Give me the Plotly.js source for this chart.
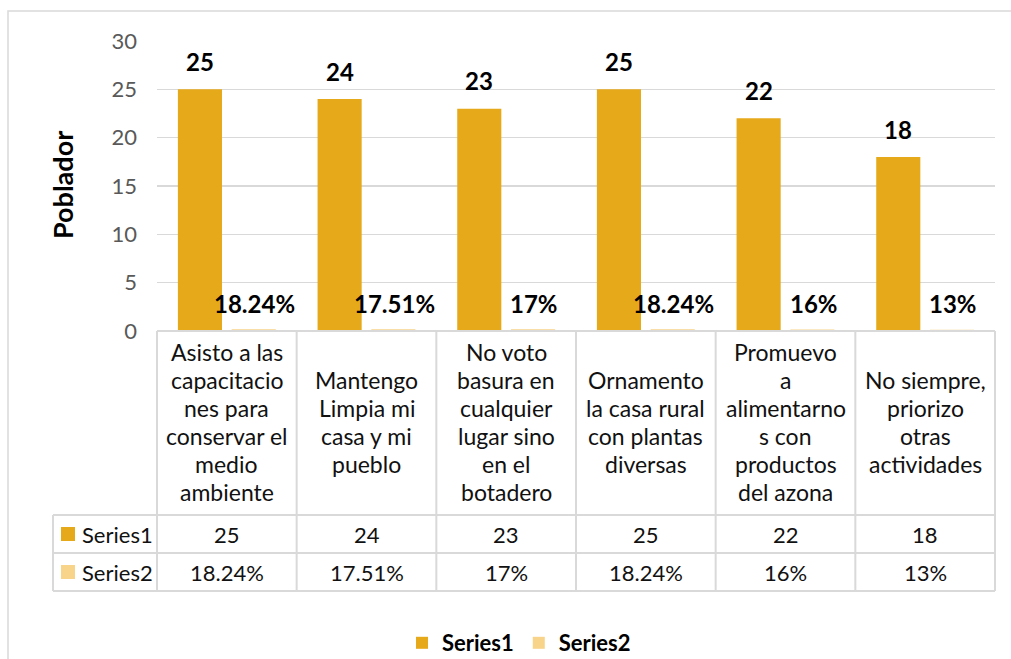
<!DOCTYPE html>
<html>
<head>
<meta charset="utf-8">
<script src="https://cdn.plot.ly/plotly-3.0.1.min.js"></script>
<style>
html,body{margin:0;padding:0;background:#fff;}
#chart{width:1011px;height:659px;}
</style>
</head>
<body>
<div id="chart"></div>
<script>
// ---- data ----
const categories = [
  "Asisto a las capacitaciones para conservar el medio ambiente",
  "Mantengo Limpia mi casa y mi pueblo",
  "No voto basura en cualquier lugar sino en el botadero",
  "Ornamento la casa rural con plantas diversas",
  "Promuevo a alimentarnos con productos del azona",
  "No siempre, priorizo otras actividades"
];
const categoryLines = [
  ["Asisto a las", "capacitacio", "nes para", "conservar el", "medio", "ambiente"],
  ["Mantengo", "Limpia mi", "casa y mi", "pueblo"],
  ["No voto", "basura en", "cualquier", "lugar sino", "en el", "botadero"],
  ["Ornamento", "la casa rural", "con plantas", "diversas"],
  ["Promuevo", "a", "alimentarno", "s con", "productos", "del azona"],
  ["No siempre,", "priorizo", "otras", "actividades"]
];
const series1Name = "Series1";
const series2Name = "Series2";
const series1 = [25, 24, 23, 25, 22, 18];
const series2 = [0.1824, 0.1751, 0.17, 0.1824, 0.16, 0.13];
const series2Labels = ["18.24%", "17.51%", "17%", "18.24%", "16%", "13%"];
const yTitle = "Poblador";

// ---- styling ----
const FONT = "Lato, 'Open Sans', sans-serif";
const C1 = "#E6A91A";
const C2 = "#F8D38A";
const GRID = "#D9D9D9";
const W = 1011, H = 659;
const PL = 157, PR = 995, PT = 41, PB = 331;
const px2x = p => (p - PL) / (PR - PL);
const px2y = p => (PB - p) / (PB - PT);

const traces = [
  {type: "bar", name: series1Name, x: categories, y: series1,
   marker: {color: C1}, hoverinfo: "y"},
  {type: "bar", name: series2Name, x: categories, y: series2,
   marker: {color: C2}, hoverinfo: "y"}
];

const shapes = [];
const annotations = [];
const line = {color: GRID, width: 2};

// outer chart border
shapes.push({type: "rect", xref: "paper", yref: "paper",
  x0: px2x(8), x1: px2x(1030), y0: px2y(680), y1: px2y(11),
  line: {color: GRID, width: 1.5}, fillcolor: "rgba(0,0,0,0)", layer: "below"});

// data table
const n = categories.length;
[PB, 515, 553, 591].forEach((py, k) => {
  shapes.push({type: "line", xref: "paper", yref: "paper",
    x0: k === 0 ? 0 : px2x(53), x1: 1, y0: px2y(py), y1: px2y(py), line});
});
for (let i = 0; i <= n; i++) {
  shapes.push({type: "line", xref: "paper", yref: "paper",
    x0: i / n, x1: i / n, y0: px2y(PB), y1: px2y(591), line});
}
shapes.push({type: "line", xref: "paper", yref: "paper",
  x0: px2x(53), x1: px2x(53), y0: px2y(515), y1: px2y(591), line});

const TXT = "#111";
const LINE_H = 28;
const cellMid = (PB + 515) / 2 - 1;
categories.forEach((c, i) => {
  const lines = categoryLines[i];
  lines.forEach((ln, j) => {
    const cy = cellMid + (j - (lines.length - 1) / 2) * LINE_H;
    annotations.push({xref: "x", yref: "paper", x: c, y: px2y(cy),
      text: ln, showarrow: false, xanchor: "center", yanchor: "middle",
      font: {family: FONT, size: 23, color: TXT}});
  });
  annotations.push({xref: "x", yref: "paper", x: c, y: px2y(534),
    text: String(series1[i]), showarrow: false, xanchor: "center", yanchor: "middle",
    font: {family: FONT, size: 22, color: TXT}});
  annotations.push({xref: "x", yref: "paper", x: c, y: px2y(572),
    text: series2Labels[i], showarrow: false, xanchor: "center", yanchor: "middle",
    font: {family: FONT, size: 22, color: TXT}});
  annotations.push({xref: "x", yref: "y", x: c, y: series1[i], xshift: -27, yshift: 28,
    text: "<b>" + series1[i] + "</b>", showarrow: false, xanchor: "center", yanchor: "middle",
    font: {family: FONT, size: 24, color: "#000"}});
  annotations.push({xref: "x", yref: "y", x: c, y: series2[i], xshift: 28, yshift: 26,
    text: "<b>" + series2Labels[i] + "</b>", showarrow: false, xanchor: "center", yanchor: "middle",
    font: {family: FONT, size: 24, color: "#000"}});
});

[[series1Name, C1, 534], [series2Name, C2, 572]].forEach(([nm, col, cy]) => {
  shapes.push({type: "rect", xref: "paper", yref: "paper",
    x0: px2x(61), x1: px2x(75), y0: px2y(cy - 7), y1: px2y(cy + 7),
    fillcolor: col, line: {width: 0}});
  annotations.push({xref: "paper", yref: "paper", x: px2x(80), y: px2y(cy),
    text: nm, showarrow: false, xanchor: "left", yanchor: "middle",
    font: {family: FONT, size: 22, color: TXT}});
});

annotations.push({xref: "paper", yref: "paper", x: px2x(62), y: px2y(185),
  text: "<b>" + yTitle + "</b>", textangle: -90, showarrow: false,
  xanchor: "center", yanchor: "middle",
  font: {family: FONT, size: 27, color: "#000"}});

const layout = {
  width: W, height: H,
  margin: {l: PL, r: W - PR, t: PT, b: H - PB, pad: 0, autoexpand: false},
  paper_bgcolor: "#fff", plot_bgcolor: "#fff",
  font: {family: FONT, color: "#595959"},
  barmode: "group", bargap: 0.23, bargroupgap: 0.18,
  showlegend: true,
  legend: {orientation: "h", x: px2x(519), xanchor: "center", y: px2y(643), yanchor: "middle",
    font: {family: FONT, size: 22, color: "#000", weight: "bold"},
    itemwidth: 30, tracegroupgap: 0},
  xaxis: {type: "category", showticklabels: false, ticks: "", showgrid: false,
    zeroline: false, showline: false, fixedrange: true},
  yaxis: {range: [0, 30], dtick: 5, tick0: 0, showgrid: true, gridcolor: GRID, gridwidth: 1.5,
    zeroline: false, showline: false, ticks: "", ticklabelstandoff: 19,
    tickfont: {family: FONT, size: 22, color: "#595959"}, fixedrange: true},
  shapes, annotations
};

Plotly.newPlot("chart", traces, layout, {displayModeBar: false, staticPlot: true});
</script>
</body>
</html>
